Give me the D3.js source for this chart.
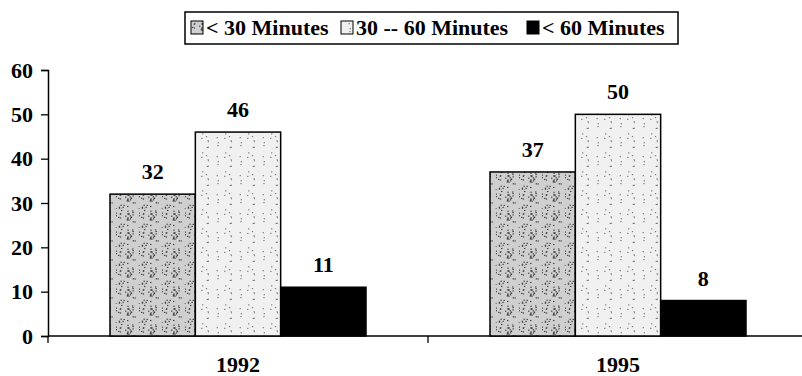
<!DOCTYPE html>
<html>
<head>
<meta charset="utf-8">
<script src="https://cdn.jsdelivr.net/npm/d3@7"></script>
<style>
  body { margin: 0; background: #fff; }
  text { font-family: "Liberation Serif", "Times New Roman", serif; font-weight: bold; }
</style>
</head>
<body>
<div id="chart"></div>
<script>
// data
var years = ['1992', '1995'];
var series = ['< 30 Minutes', '30 -- 60 Minutes', '< 60 Minutes'];
var values1992 = [32, 46, 11];
var values1995 = [37, 50, 8];
var yTicks = [0, 10, 20, 30, 40, 50, 60];

var rows = [values1992, values1995];

var width = 802, height = 376;
var svg = d3.select('#chart').append('svg')
    .attr('width', width)
    .attr('height', height);

// speckled fills, a bit like the scanned original
var defs = svg.append('defs');
function speckle(id, base, dot, n, seed) {
  var p = defs.append('pattern')
      .attr('id', id)
      .attr('patternUnits', 'userSpaceOnUse')
      .attr('width', 23).attr('height', 19);
  p.append('rect').attr('width', 23).attr('height', 19).attr('fill', base);
  var s = seed;
  for (var i = 0; i < n; i++) {
    s = (s * 9301 + 49297) % 233280;
    var x = (s / 233280) * 23;
    s = (s * 9301 + 49297) % 233280;
    var y = (s / 233280) * 19;
    p.append('rect').attr('x', x).attr('y', y)
        .attr('width', 1.3).attr('height', 1.1).attr('fill', dot);
  }
}
speckle('pat0', '#cfcfcf', '#333', 34, 7);
speckle('pat1', '#f0f0f0', '#777', 10, 3);
var fills = ['url(#pat0)', 'url(#pat1)', '#000'];

var x0 = d3.scaleBand().domain(years).range([48, 808]);
var x1 = d3.scaleBand().domain(series).range([62, 318]);
var y = d3.scaleLinear().domain([0, 60]).range([336, 70]);

// axes
var yAxis = d3.axisLeft(y).tickValues(yTicks).tickSize(7).tickPadding(8);
var gy = svg.append('g').attr('transform', 'translate(48,0)').call(yAxis);
gy.select('.domain').attr('stroke-width', 1.5);
gy.selectAll('.tick line').attr('stroke-width', 1.3);
gy.selectAll('.tick text').style('font-size', '22px').attr('fill', '#000');

var gx = svg.append('g').attr('transform', 'translate(0,336)');
gx.append('line').attr('x1', 48).attr('x2', 808).attr('stroke', '#000').attr('stroke-width', 1.5);
gx.selectAll('.sep').data(years).enter().append('line')
    .attr('x1', function(d) { return x0(d); })
    .attr('x2', function(d) { return x0(d); })
    .attr('y1', 0).attr('y2', 7)
    .attr('stroke', '#000').attr('stroke-width', 1.3);
gx.selectAll('.yr').data(years).enter().append('text')
    .attr('x', function(d) { return x0(d) + x0.bandwidth() / 2; })
    .attr('y', 36)
    .attr('text-anchor', 'middle')
    .style('font-size', '22px')
    .text(function(d) { return d; });

// bars
var groups = svg.selectAll('.grp').data(rows).enter().append('g')
    .attr('transform', function(d, i) { return 'translate(' + x0(years[i]) + ',0)'; });

groups.selectAll('rect').data(function(d) { return d; }).enter().append('rect')
    .attr('x', function(d, i) { return x1(series[i]); })
    .attr('y', function(d) { return y(d); })
    .attr('width', x1.bandwidth())
    .attr('height', function(d) { return y(0) - y(d); })
    .attr('fill', function(d, i) { return fills[i]; })
    .attr('stroke', '#000')
    .attr('stroke-width', 1.5);

groups.selectAll('.lbl').data(function(d) { return d; }).enter().append('text')
    .attr('x', function(d, i) { return x1(series[i]) + x1.bandwidth() / 2; })
    .attr('y', function(d) { return y(d) - 15; })
    .attr('text-anchor', 'middle')
    .style('font-size', '22px')
    .text(function(d) { return d; });

// legend
var legend = svg.append('g');
legend.append('rect')
    .attr('x', 185).attr('y', 12).attr('width', 493).attr('height', 32)
    .attr('fill', '#fff').attr('stroke', '#000').attr('stroke-width', 1.5);
var lx = [191, 341, 527];
var items = legend.selectAll('.item').data(series).enter().append('g')
    .attr('transform', function(d, i) { return 'translate(' + lx[i] + ',0)'; });
items.append('rect')
    .attr('x', 0).attr('y', 21).attr('width', 12).attr('height', 13)
    .attr('fill', function(d, i) { return fills[i]; })
    .attr('stroke', '#000');
items.append('text')
    .attr('x', 15).attr('y', 35)
    .style('font-size', '22px')
    .text(function(d) { return d; });
</script>
</body>
</html>
